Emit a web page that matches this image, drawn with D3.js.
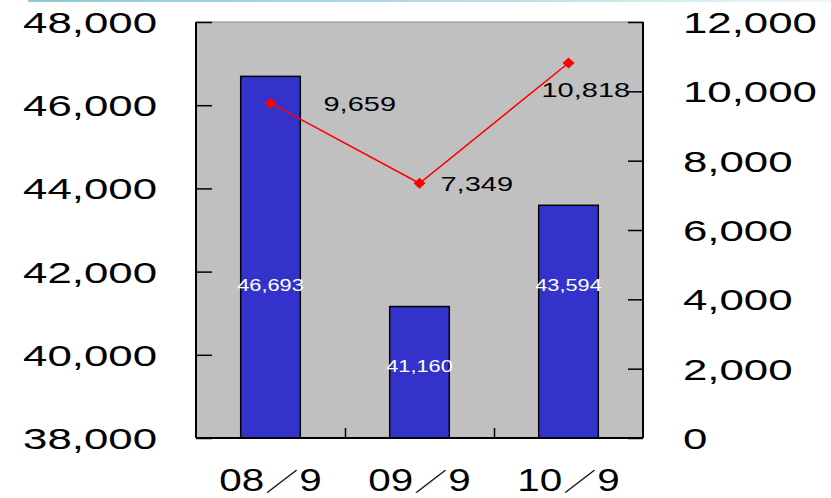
<!DOCTYPE html>
<html>
<head>
<meta charset="utf-8">
<script src="https://cdn.jsdelivr.net/npm/d3@7"></script>
<style>
  html, body { margin: 0; padding: 0; background: #ffffff; }
  svg { display: block; }
  text { font-family: "Liberation Sans", Arial, "Noto Sans CJK JP", sans-serif; }
</style>
</head>
<body>
<svg id="chart" width="831" height="498"></svg>
<script>
// Categories (year/month)
const categories = ["08／9", "09／9", "10／9"];
// Bar series (left axis)
const barValues = [46693, 41160, 43594];
// Line series (right axis)
const lineValues = [9659, 7349, 10818];
// Axis ticks
const leftTicks = [38000, 40000, 42000, 44000, 46000, 48000];
const rightTicks = [0, 2000, 4000, 6000, 8000, 10000, 12000];

const svg = d3.select("#chart");
const W = 831, H = 498;
const plot = { left: 196, right: 643, top: 22, bottom: 438 };

const fmt = d3.format(",");

const x = d3.scaleBand()
  .domain(categories)
  .range([plot.left, plot.right])
  .paddingInner(0.6)
  .paddingOuter(0.3);

const yL = d3.scaleLinear().domain([38000, 48000]).range([plot.bottom, plot.top]);
const yR = d3.scaleLinear().domain([0, 12000]).range([plot.bottom, plot.top]);

// thin header rule across the top
const defs = svg.append("defs");
const grad = defs.append("linearGradient").attr("id", "rule").attr("x1", "0").attr("x2", "1");
grad.append("stop").attr("offset", "0").attr("stop-color", "#8fcad3");
grad.append("stop").attr("offset", "0.6").attr("stop-color", "#b9e0e6");
grad.append("stop").attr("offset", "1").attr("stop-color", "#eef8fa");
svg.append("rect").attr("x", 28).attr("y", 0).attr("width", W - 28).attr("height", 2)
  .attr("fill", "url(#rule)");

// plot background
svg.append("rect")
  .attr("x", plot.left).attr("y", plot.top)
  .attr("width", plot.right - plot.left).attr("height", plot.bottom - plot.top)
  .attr("fill", "#c0c0c0");
// top border (light)
svg.append("line")
  .attr("x1", plot.left).attr("x2", plot.right)
  .attr("y1", plot.top).attr("y2", plot.top)
  .attr("stroke", "#8a8a8a").attr("stroke-width", 1);

// horizontally stretched text helper
function wideText(g, str, px, py, size, factor, anchor, fill) {
  return g.append("text")
    .attr("transform", `translate(${px},${py}) scale(${factor},1)`)
    .attr("font-size", size)
    .attr("text-anchor", anchor)
    .attr("fill", fill || "#000")
    .text(str);
}

// bars
svg.append("g").selectAll("rect")
  .data(barValues)
  .join("rect")
  .attr("x", (d, i) => x(categories[i]))
  .attr("width", x.bandwidth())
  .attr("y", d => yL(d))
  .attr("height", d => yL.range()[0] - yL(d))
  .attr("fill", "#3333cc")
  .attr("stroke", "#000")
  .attr("stroke-width", 1.5);

// axes: ticks point inward
const gL = svg.append("g").attr("transform", `translate(${plot.left},0)`)
  .call(d3.axisRight(yL).tickValues(leftTicks).tickSize(16).tickFormat(""));
const gR = svg.append("g").attr("transform", `translate(${plot.right},0)`)
  .call(d3.axisLeft(yR).tickValues(rightTicks).tickSize(15).tickFormat(""));
const boundaries = [1, 2].map(i => plot.left + (plot.right - plot.left) * i / categories.length);
const xb = d3.scaleLinear().domain([plot.left, plot.right]).range([plot.left, plot.right]);
const gB = svg.append("g").attr("transform", `translate(0,${plot.bottom})`)
  .call(d3.axisTop(xb).tickValues(boundaries).tickSize(10).tickFormat(""));
[gL, gR, gB].forEach(g => {
  g.select(".domain").attr("stroke", "#000").attr("stroke-width", 2);
  g.selectAll(".tick line").attr("stroke", "#000").attr("stroke-width", 1.5);
});
gB.select(".domain").attr("d", `M${plot.left},0H${plot.right}`);
gL.select(".domain").attr("d", `M0,${plot.top}V${plot.bottom}`);
gR.select(".domain").attr("d", `M0,${plot.top}V${plot.bottom}`);

// axis labels
const labels = svg.append("g");
leftTicks.forEach(v => wideText(labels, fmt(v), 157, yL(v) + 11, 30, 1.46, "end"));
rightTicks.forEach(v => wideText(labels, fmt(v), 683, yR(v) + 11, 30, 1.46, "start"));

// category labels: digits with a slimmer full-width slash
categories.forEach(c => {
  const cx = x(c) + x.bandwidth() / 2;
  const [a, b] = c.split("／");
  const t = labels.append("text")
    .attr("font-size", 31)
    .attr("text-anchor", "middle")
    .attr("fill", "#000");
  t.append("tspan").text(a);
  t.append("tspan").attr("font-size", 25).attr("dx", 1).text("／");
  t.append("tspan").attr("dx", 1).text(b);
  const f = 100 / t.node().getComputedTextLength();
  t.attr("transform", `translate(${cx},491) scale(${f},1)`);
});

// value labels inside bars
const insideAt = [41680, 39720, 41680];
barValues.forEach((v, i) => {
  const cx = x(categories[i]) + x.bandwidth() / 2;
  wideText(labels, fmt(v), cx, yL(insideAt[i]) + 6, 16, 1.36, "middle", "#ffffff");
});

// line series
const cxs = categories.map(c => x(c) + x.bandwidth() / 2);
const line = d3.line().x((d, i) => cxs[i]).y(d => yR(d));
svg.append("path")
  .datum(lineValues)
  .attr("d", line)
  .attr("fill", "none")
  .attr("stroke", "#ff0000")
  .attr("stroke-width", 1.5);
svg.append("g").selectAll("path")
  .data(lineValues)
  .join("path")
  .attr("transform", (d, i) => `translate(${cxs[i]},${yR(d)})`)
  .attr("d", "M0,-5.5L6,0L0,5.5L-6,0Z")
  .attr("fill", "#ff0000");

// line value labels
const lineLabelOffset = [[53, 8], [21, 8], [-27, 34]];
lineValues.forEach((v, i) => {
  wideText(labels, fmt(v), cxs[i] + lineLabelOffset[i][0], yR(v) + lineLabelOffset[i][1], 21, 1.38, "start");
});
</script>
</body>
</html>
